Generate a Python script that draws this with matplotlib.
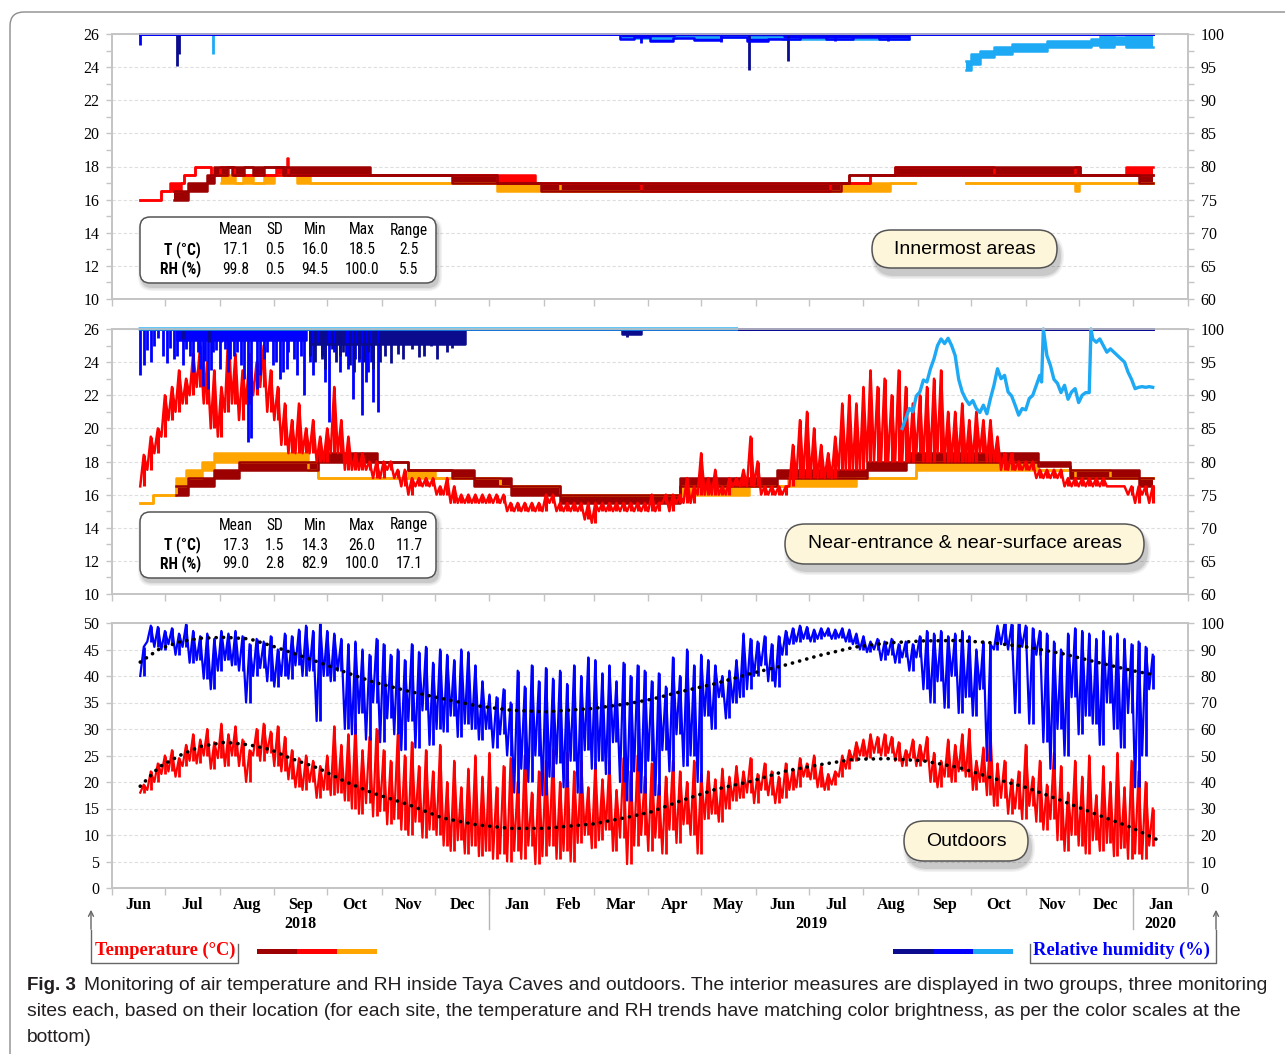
import numpy as np
import matplotlib
matplotlib.use("Agg")
import matplotlib.pyplot as plt
from matplotlib import font_manager
from matplotlib.patches import FancyBboxPatch, FancyArrowPatch, Rectangle
from matplotlib.lines import Line2D
from matplotlib.ticker import MultipleLocator
from matplotlib.transforms import IdentityTransform, blended_transform_factory

nan = np.nan

# ---------------- time axis (days counted from 1 June 2018) ----------------
MONTH_START = [0, 30, 61, 92, 122, 153, 183, 214, 245, 273, 304, 334,
               365, 395, 426, 457, 487, 518, 548, 579, 610]
MONTH_NAMES = ['Jun', 'Jul', 'Aug', 'Sep', 'Oct', 'Nov', 'Dec', 'Jan', 'Feb', 'Mar',
               'Apr', 'May', 'Jun', 'Jul', 'Aug', 'Sep', 'Oct', 'Nov', 'Dec', 'Jan']
YEAR_LABELS = ['2018', '2019', '2020']
YEAR_BREAKS = [214, 579]

# ---------------- innermost areas: temperature (day, low, high) ----------------
RED1_DAYS = [16, 28, 33, 39, 41, 47, 56, 61, 66, 69, 93, 99, 99.6, 218, 240, 300, 407, 430, 444, 500, 546, 549, 575, 590]
RED1_LO = [16.0, 16.5, 16.5, 17.0, 17.5, 18.0, 17.5, 17.5, 18.0, 17.5, 17.5, 17.5, 17.5, 17.0, 17.0, 16.5, 17.0, 17.5, 17.5, 17.5, 17.5, 17.5, 17.5, 17.5]
RED1_HI = [16.0, 16.5, 17.0, 17.0, 17.5, 18.0, 17.5, 18.0, 18.0, 17.5, 18.0, 18.5, 17.5, 17.5, 17.0, 17.0, 17.0, 17.5, 18.0, 17.5, 18.0, 17.5, 18.0, 18.0]

DRED1_DAYS = [35, 43, 54, 58, 65, 68, 75, 80, 86, 97, 146, 193, 218, 243, 413, 418, 444, 549, 582, 590]
DRED1_LO = [16.0, 16.5, 17.0, 17.5, 18.0, 17.5, 18.0, 17.5, 18.0, 17.5, 17.5, 17.0, 17.0, 16.5, 17.0, 17.5, 17.5, 17.5, 17.0, 17.0]
DRED1_HI = [16.5, 17.0, 17.5, 18.0, 18.0, 18.0, 18.0, 18.0, 18.0, 18.0, 17.5, 17.5, 17.0, 17.0, 17.0, 17.5, 18.0, 17.5, 17.5, 17.5]

ORG1_DAYS = [62, 70, 74, 80, 86, 92, 105, 112, 218, 254, 413, 441, 455, 484, 546, 548, 590]
ORG1_LO = [17.0, 17.0, 17.0, 17.0, 17.0, 17.5, 17.0, 17.0, 16.5, 16.5, 16.5, 17.0, nan, 17.0, 16.5, 17.0, 17.0]
ORG1_HI = [17.5, 17.0, 17.5, 17.0, 17.5, 17.5, 17.5, 17.0, 17.0, 16.5, 17.0, 17.0, nan, 17.0, 17.0, 17.0, 17.0]

# ---------------- innermost areas: relative humidity ----------------
NAVY1_DAYS = [16, 590]
NAVY1_LO = [100, 100]
NAVY1_HI = [100, 100]
NAVY1_SPIKE_DAY = [37, 38, 361, 383]
NAVY1_SPIKE_MIN = [95.2, 97.0, 94.5, 96.0]

BLUE1_DAYS = [16, 288, 296, 305, 318, 330, 345, 360, 372, 390, 405, 420, 435, 452, 590]
BLUE1_LO = [100, 99.2, 99.5, 99.0, 99.4, 99.1, 99.5, 99.0, 99.3, 99.6, 99.2, 99.5, 99.3, 100, 100]
BLUE1_HI = [100] * 15
BLUE1_SPIKE_DAY = [16, 300, 345, 410, 440]
BLUE1_SPIKE_MIN = [98.3, 98.6, 98.8, 98.9, 99.0]

LBLUE1_DAYS = [16, 288, 320, 380, 452, 484, 487, 492, 500, 510, 530, 555, 560, 568, 575, 590]
LBLUE1_LO = [100, 99.4, 99.6, 99.3, nan, 94.5, 95.5, 96.5, 97.0, 97.5, 98.0, 98.3, 98.0, 98.5, 98.0, 98.0]
LBLUE1_HI = [100, 100, 100, 100, nan, 96.0, 97.0, 97.5, 98.0, 98.5, 99.0, 99.2, 100, 99.5, 100, 100]
LBLUE1_SPIKE_DAY = [57]
LBLUE1_SPIKE_MIN = [97.0]

# ---------------- near-entrance & near-surface: temperature ----------------
# red site sampled every 4 days (daily low / high)
RED2_LO = [16.5, 17.5, 18.5, 19.5, 20.5, 21, 21.5, 22, 22.5, 21.5,
           20, 19.5, 21, 21.5, 20.5, 21.5, 22, 22.5, 21, 20.5,
           19, 18.5, 18.5, 18.5, 18.5, 18, 18, 18.5, 18.5, 17.5,
           17.5, 17.5, 17.5, 17, 17, 17.5, 17, 16.5, 16, 16.5,
           16.5, 16.5, 16, 16, 15.5, 15.5, 15.5, 15.5, 15.5, 15.5,
           15.5, 15.5, 15, 15, 15, 15, 15, 15, 15.5, 15,
           15, 15, 15, 14.5, 14.3, 15, 15, 15, 15, 15,
           15, 15, 15, 15, 15.5, 15, 15.5, 15.5, 15.5, 16,
           16, 16, 16, 16, 16.5, 16.5, 16.5, 16.5, 16, 16,
           16, 16, 16.5, 17, 17, 17, 17, 17, 17, 17.5,
           17.5, 17.5, 17.5, 18, 18, 18, 18, 18, 18, 18,
           18.5, 18, 18, 18.5, 18, 18, 18, 18, 18, 18.5,
           18, 18, 17.5, 17.5, 17.5, 17.5, 17.5, 17, 17, 17,
           17, 16.5, 16.5, 16.5, 16.5, 16.5, 16.5, 16.5, 16.5, 16.5,
           16, 15.5, 16, 15.5]
RED2_HI = [18.4, 19.5, 20, 22, 22.5, 23.5, 23, 24.5, 25, 24,
           23.5, 22.5, 26, 24.5, 23.5, 24.5, 24, 25, 23.5, 22.5,
           21.5, 20.5, 21.5, 20, 20.5, 19.5, 20, 22.5, 20.5, 19.5,
           18.5, 18.5, 18, 18, 18, 18, 17.5, 17.5, 17, 17,
           17, 17, 16.5, 17, 16.5, 16, 16, 16, 16, 16,
           16, 16, 15.5, 15.5, 15.5, 15.5, 15.5, 16, 16, 15.5,
           15.5, 15.5, 15.5, 15.5, 15.5, 15.5, 15.5, 15.5, 15.5, 15.5,
           15.5, 15.5, 16, 15.5, 16, 16, 16, 17, 16.5, 18.5,
           17, 17.5, 16.5, 17, 17, 17.5, 19.5, 18, 16.5, 16.5,
           16.5, 16.5, 19, 20.5, 21, 20, 19, 18.5, 19.5, 21.5,
           22, 21.5, 22.5, 23.5, 22.5, 23, 22, 23.5, 22.5, 21.5,
           22, 22.5, 23, 23.5, 21, 21, 21.5, 20.5, 21, 20.5,
           20.5, 19.5, 18.5, 18.5, 18, 18, 18, 17.5, 17.5, 17.5,
           17.5, 17, 17, 17, 17, 17, 17, 16.5, 16.5, 16.5,
           16.5, 16.5, 16.5, 16.5]

DRED2_DAYS = [36, 43, 58, 72, 117, 150, 168, 193, 205, 226, 254, 322, 377, 428, 450, 525, 543, 582, 590]
DRED2_LO = [16.0, 16.5, 17.0, 17.5, 18.0, 18.0, 17.5, 17.0, 16.5, 16.0, 15.5, 16.5, 17.0, 17.5, 18.0, 17.7, 17.0, 16.5, 16.5]
DRED2_HI = [16.5, 17.0, 17.5, 18.0, 18.5, 18.0, 17.5, 17.5, 17.0, 16.5, 16.0, 17.0, 17.5, 18.0, 18.5, 18.0, 17.5, 17.0, 17.0]

ORG2_DAYS = [16, 23, 36, 42, 51, 58, 111, 117, 168, 183, 220, 254, 322, 361, 383, 422, 456, 525, 546, 566, 590]
ORG2_LO = [15.5, 16.0, 16.5, 17.0, 17.5, 18.0, 17.5, 17.0, 17.0, 17.0, 16.5, 16.0, 16.0, 16.5, 16.5, 17.0, 17.5, 17.5, 17.0, 17.0, 17.0]
ORG2_HI = [15.5, 16.0, 17.0, 17.5, 18.0, 18.5, 18.0, 17.0, 17.5, 17.0, 16.5, 16.0, 16.5, 16.5, 17.0, 17.0, 18.0, 17.5, 17.5, 17.0, 17.0]

# ---------------- near-entrance & near-surface: relative humidity ----------------
NAVY2_DAYS = [16, 112, 200, 289, 300, 590]
NAVY2_LO = [100, 97.8, 100, 99.3, 100, 100]
NAVY2_HI = [100, 100, 100, 100, 100, 100]
NAVY2_SPIKE_DAY = [40, 55, 112, 115, 119, 121, 125, 127, 129, 131, 135, 137, 140, 143, 145, 148, 152,
                   155, 158, 162, 165, 170, 174, 177, 181, 184, 187, 190, 193, 196, 292]
NAVY2_SPIKE_MIN = [98.5, 98.0, 96.0, 95.0, 95.5, 94.0, 97.0, 95.0, 96.0, 96.5, 94.5, 93.5, 95.5, 95.0, 96.5, 94.0, 95.0,
                   96.0, 94.8, 96.2, 95.5, 97.0, 95.7, 96.0, 97.5, 95.5, 98.0, 96.5, 97.2, 98.0, 98.8]

BLUE2_DAYS = [16, 37, 110, 590]
BLUE2_LO = [100, 98.3, 100, 100]
BLUE2_HI = [100, 100, 100, 100]
BLUE2_SPIKE_DAY = [16, 18, 20, 22, 24, 26, 29, 31, 33, 35, 37, 40, 42, 44, 46, 48.5, 50, 51.5, 53, 54.4,
                   56, 57, 59, 61, 62, 64, 66, 67, 69, 71, 73, 75, 77, 79, 82, 84, 86, 88, 91.5, 93,
                   95, 97, 99, 100, 103, 105, 107, 109, 112, 114, 117, 119, 121, 123, 126, 129, 132.5,
                   134, 136.5, 138, 140, 142, 144, 145, 147, 148, 151]
BLUE2_SPIKE_MIN = [93.0, 94.5, 96.8, 95.0, 97.5, 98.7, 96.0, 94.8, 97.2, 95.5, 96.0, 94.5, 97.0, 96.0, 93.5, 96.5,
                   94.0, 91.4, 95.2, 91.0, 93.8, 96.5, 96.8, 94.0, 98.0, 97.0, 93.5, 95.5, 96.0, 96.5, 94.5,
                   92.5, 82.9, 83.5, 91.0, 93.0, 95.5, 96.5, 94.5, 95.0, 92.5, 93.5, 94.0, 96.5, 95.5, 93.0,
                   96.0, 90.0, 95.0, 93.0, 98.0, 96.0, 92.0, 86.0, 96.5, 93.5, 96.0, 94.0, 89.4, 95.5, 95.0,
                   87.0, 92.0, 93.5, 95.0, 89.0, 87.4]

LBLUE2_DAYS = [16, 354, 355,
               448, 450, 452, 454, 456, 458, 460, 462, 464, 466, 468, 470, 472, 474, 476, 478,
               480, 482, 484, 486, 488, 490, 492, 494, 496, 498, 500, 502, 504, 506, 508, 510,
               512, 514, 516, 518, 520, 522, 524, 526, 527, 528, 530, 532, 534, 536, 538, 540,
               542, 544, 546, 548, 550, 552, 554, 555, 556, 558, 560, 562, 564, 566, 568, 570,
               572, 574, 576, 578, 580, 582, 584, 586, 588, 590]
LBLUE2_RH = [100, 100, nan,
             85.0, 86.5, 88.0, 87.5, 89.9, 90.5, 92.3, 92.0, 94.0, 95.5, 97.5, 98.5, 97.8, 98.6, 97.5, 96.0,
             92.4, 90.5, 89.4, 88.6, 89.2, 88.0, 87.4, 88.5, 87.2, 89.5, 91.5, 94.0, 92.5, 93.0, 90.5, 89.9,
             88.5, 87.0, 88.0, 87.8, 89.5, 90.0, 91.5, 93.0, 92.0, 100.0, 96.0, 94.5, 92.4, 91.8, 90.4, 91.5,
             89.4, 90.5, 91.0, 88.9, 90.0, 90.4, 90.4, 100.0, 98.5, 98.0, 98.5, 97.5, 96.5, 97.0, 96.5, 96.0,
             95.5, 95.0, 93.5, 92.4, 91.0, 91.2, 91.3, 91.2, 91.3, 91.2]

# ---------------- outdoors, sampled every 4 days (daily low / high) ----------------
T_OUT_LO = [18, 18.5, 20, 21.5, 22, 21, 23, 24, 23.5, 25,
            22.5, 24.5, 23, 25, 23, 20, 25, 24, 25.5, 23,
            22, 20.5, 19, 18.5, 20, 17, 18.5, 17.5, 18, 16.5,
            15, 14, 16, 13.5, 14.5, 12, 13, 11, 10, 12.5,
            9.5, 11, 10, 8, 7, 9, 6.5, 8, 6, 7,
            5.5, 6.5, 5, 7, 5.5, 8, 4.5, 6, 8, 5.5,
            7, 5, 8.5, 10, 7.5, 9, 11, 7, 9.5, 4.5,
            8, 10, 7, 9.5, 6.5, 11, 8.5, 12, 10, 6.5,
            13, 14, 12.5, 15, 16.5, 17, 18, 16, 18.5, 17.5,
            16, 17, 18.5, 19, 21, 20.5, 19, 18.5, 19.5, 21,
            22.5, 24, 25, 24.5, 25.5, 25, 25.5, 24, 23, 24.5,
            23, 24, 20, 19, 21, 20, 22, 21, 18.5, 20,
            17.5, 15.5, 17, 14, 15, 13, 15.5, 12.5, 11, 13,
            9, 7, 10, 8, 6.5, 9, 7, 8.5, 6, 7.5,
            5.5, 6.5, 5.5, 8]
T_OUT_HI = [19.5, 22, 23.5, 25, 26, 24.5, 27, 29, 28, 30,
            27.5, 31, 29, 30.5, 28, 26, 30, 31, 29.5, 30.5,
            28.5, 26, 24.5, 25, 24, 23, 25, 30.5, 27, 29,
            31, 26, 28.5, 30, 26, 24, 29, 25, 27.5, 23,
            26, 22, 27, 20, 24, 19, 22.5, 25, 21, 25.5,
            19, 23, 24.5, 20, 25, 18, 22, 24, 26, 20,
            25.5, 22, 24, 19, 23.5, 20.5, 24, 18.5, 24.5, 22,
            25, 21, 23.5, 19.5, 21, 24, 22, 20, 24, 21.5,
            22, 20.5, 22.5, 21, 23, 22, 24.5, 21.5, 23.5, 22,
            21, 23.5, 22.5, 24.5, 23.5, 25, 23, 21.5, 22, 25,
            26, 27.5, 28, 29, 28.5, 29, 28.5, 27.5, 26, 28,
            27, 28.5, 25.5, 24, 28, 27, 29, 30, 24, 26.5,
            29.5, 23.5, 24, 20.5, 22, 27, 21, 24, 19.5, 25.5,
            23, 18, 24, 21, 25, 17.5, 23, 20, 25.5, 19,
            24, 22, 20, 15]
RH_OUT_LO = [80, 93, 91, 90, 92, 88, 91, 85, 86, 79,
             75, 82, 86, 84, 82, 70, 80, 83, 78, 76,
             80, 79, 84, 80, 82, 63, 80, 78, 82, 60,
             58, 66, 56, 70, 55, 64, 58, 52, 63, 53,
             67, 54, 60, 59, 65, 57, 62, 60, 56, 60,
             53, 58, 50, 36, 45, 40, 50, 35, 42, 47,
             38, 48, 36, 52, 45, 48, 43, 55, 40, 33,
             44, 36, 48, 35, 52, 44, 58, 46, 50, 40,
             65, 60, 72, 64, 70, 72, 75, 80, 84, 78,
             76, 88, 92, 93, 94, 93, 94, 95, 94, 94.5,
             93, 92, 90, 89, 90, 86, 88, 85, 87, 82,
             87, 75, 70, 78, 68, 80, 66, 72, 65, 75,
             48, 90, 92, 90, 66, 91, 62, 88, 55, 45,
             60, 50, 72, 58, 65, 62, 54, 70, 60, 53,
             66, 38, 50, 75]
RH_OUT_HI = [91, 99, 98.5, 97, 98, 96, 99.5, 97, 95, 96,
             94, 97, 96, 97, 95, 92, 94, 93, 95, 90,
             96, 95, 97.5, 99, 97, 100, 97, 96, 94, 92,
             93, 90, 88, 94, 92, 88, 90, 86, 92, 89,
             91, 85, 90, 88, 86, 90, 89, 84, 78, 73,
             72, 75, 70, 82, 76, 84, 78, 83, 79, 82,
             77, 84, 80, 87, 86, 81, 84, 78, 85, 80,
             84, 82, 78, 81, 76, 87, 80, 90, 84, 88,
             86, 84, 80, 82, 86, 96, 94, 93, 95, 92,
             95, 97, 98, 99, 98.5, 97.5, 98, 98, 97.5, 98,
             97.5, 96, 95, 93, 94, 93, 94, 92, 93, 92,
             95, 97, 96, 97, 95, 96, 97, 95, 90, 93,
             92, 99, 100, 99.5, 100, 99, 98, 97, 96, 93,
             90, 96, 98, 97, 96, 94, 97, 95, 96, 94,
             92, 93, 91, 88]

TREND_DAYS = [16, 27, 39, 50, 64, 78, 90, 101, 117, 132, 148, 168, 187, 207, 226, 246, 273,
              293, 306, 322, 342, 362, 381, 401, 421, 440, 460, 480, 499, 519, 539, 558, 578, 592]
T_TREND = [19.2, 22.9, 25.1, 26.7, 27.5, 27.0, 26.1, 24.5, 22.6, 20.1, 17.9, 15.75, 13.25, 11.9,
           11.25, 11.25, 12.1, 13.4, 14.4, 16.4, 18.6, 20.1, 22.0, 23.25, 24.3, 24.4, 24.0, 22.75,
           20.75, 18.9, 16.4, 13.9, 11.4, 9.2]
RH_TREND = [85.25, 90.25, 93.0, 94.25, 94.6, 94.0, 91.5, 89.0, 85.25, 81.5, 77.75, 74.25, 71.5,
            68.75, 67.1, 66.5, 67.75, 69.6, 71.25, 74.0, 77.1, 80.9, 84.0, 87.75, 90.9, 92.5, 93.25,
            93.4, 92.5, 90.9, 88.4, 85.25, 82.1, 80.25]

# ---------------- summary tables ----------------
STAT_HEADERS = ['Mean', 'SD', 'Min', 'Max', 'Range']
INNER_T_STATS = [17.1, 0.5, 16.0, 18.5, 2.5]
INNER_RH_STATS = [99.8, 0.5, 94.5, 100.0, 5.5]
NEAR_T_STATS = [17.3, 1.5, 14.3, 26.0, 11.7]
NEAR_RH_STATS = [99.0, 2.8, 82.9, 100.0, 17.1]

CAPTION_LINES = [
    "Monitoring of air temperature and RH inside Taya Caves and outdoors. The interior measures are displayed in two groups, three monitoring",
    "sites each, based on their location (for each site, the temperature and RH trends have matching color brightness, as per the color scales at the",
    "bottom)",
]

# ---------------- colours & fonts ----------------
DRED, RED, ORANGE = '#9c0000', '#ff0000', '#ffa500'
NAVY, BLUE, LBLUE = '#0b0b8e', '#0000ff', '#1ea9f5'
SPINE = '#c4c4c4'

_installed = {f.name for f in font_manager.fontManager.ttflist}
NARROW = next((n for n in ['Liberation Sans Narrow', 'Roboto Condensed', 'Roboto'] if n in _installed), 'DejaVu Sans')
SERIF = 'Liberation Serif'
SANS = 'Liberation Sans'
plt.rcParams['font.family'] = SANS

W, H = 1285, 1054
fig = plt.figure(figsize=(W / 100, H / 100), dpi=100)
PIX = IdentityTransform()


def px(x, y):
    return x, H - y


def panel(top, bottom):
    return fig.add_axes([112 / W, 1 - bottom / H, (1188 - 112) / W, (bottom - top) / H])


def style(ax, axr, ylim, ystep, yminor, rlim, rstep, rminor):
    ax.set_xlim(0, 610)
    ax.set_ylim(*ylim)
    axr.set_ylim(*rlim)
    ax.set_yticks(np.arange(ylim[0], ylim[1] + 0.01, ystep))
    axr.set_yticks(np.arange(rlim[0], rlim[1] + 0.01, rstep))
    if yminor:
        ax.yaxis.set_minor_locator(MultipleLocator(yminor))
        axr.yaxis.set_minor_locator(MultipleLocator(rminor))
    ax.set_xticks(MONTH_START)
    ax.set_xticklabels([])
    ax.tick_params(axis='x', length=5, width=1, color=SPINE)
    for a in (ax, axr):
        a.tick_params(axis='y', which='both', length=4, width=1, color=SPINE, pad=5,
                      labelsize=11.5, labelfontfamily=SERIF)
        for s in a.spines.values():
            s.set_color(SPINE)
            s.set_linewidth(1.2)
    ax.grid(axis='y', which='major', color='#dedede', ls=(0, (3, 2)), lw=0.8)
    ax.set_axisbelow(True)


def steps(ax, days, lo, hi, color, lw=1.8):
    d = np.asarray(days, float)
    lo = np.asarray(lo, float)
    hi = np.asarray(hi, float)
    ax.fill_between(d, lo, hi, step='post', color=color, lw=0, clip_on=False)
    ax.step(d, lo, where='post', color=color, lw=lw, clip_on=False)
    ax.step(d, hi, where='post', color=color, lw=lw, clip_on=False)


def spikes(ax, days, mins, color, top=100):
    ax.vlines(days, mins, top, colors=color, lw=2.0)


def interleave(days, lo, hi, half=2.0):
    d = np.asarray(days, float)
    x = np.column_stack([d, d + half]).ravel()
    y = np.column_stack([lo, hi]).ravel()
    return x, y


def daily_range(ax, days, lo, hi, color, lw=1.6):
    # zig-zag between successive lows and highs, plus a stroke for each low-high span
    x, y = interleave(days, lo, hi)
    ax.plot(x, y, color=color, lw=lw)
    ax.vlines(np.asarray(days, float) + 2.0, lo, hi, colors=color, lw=lw + 0.4)


def rounded_box(x0, y0, x1, y1, r, face, edge, shadow=(3, 6)):
    dx, dy = shadow
    for k, a in [(8, 0.05), (5, 0.07), (2, 0.10)]:
        fig.add_artist(FancyBboxPatch((x0 + dx - k / 2, H - y1 - dy - k / 2), x1 - x0 + k, y1 - y0 + k,
                                      boxstyle=f'round,pad=0,rounding_size={r + k / 2}',
                                      transform=PIX, fc='black', ec='none', alpha=a, zorder=4))
    fig.add_artist(FancyBboxPatch((x0, H - y1), x1 - x0, y1 - y0,
                                  boxstyle=f'round,pad=0,rounding_size={r}',
                                  transform=PIX, fc=face, ec=edge, lw=1.1, zorder=5))


def txt(x, y, s, **kw):
    kw.setdefault('va', 'center')
    return fig.text(*px(x, y), s, transform=PIX, zorder=6, **kw)


def stats_box(top, t_stats, rh_stats):
    rounded_box(140, top, 436, top + 66, 10, 'white', '#555555', shadow=(2, 4))
    cols = [236, 275, 315, 362, 409]
    fs = 11.2
    for x, h in zip(cols, STAT_HEADERS):
        txt(x, top + 13, h, ha='center', fontsize=fs, family=NARROW)
    txt(201, top + 33, 'T (°C)', ha='right', fontsize=fs, family=NARROW, weight='bold')
    txt(201, top + 52, 'RH (%)', ha='right', fontsize=fs, family=NARROW, weight='bold')
    for x, tv, rv in zip(cols, t_stats, rh_stats):
        txt(x, top + 33, f'{tv:.1f}', ha='center', fontsize=fs, family=NARROW)
        txt(x, top + 52, f'{rv:.1f}', ha='center', fontsize=fs, family=NARROW)


def pill(x0, y0, x1, y1, label):
    rounded_box(x0, y0, x1, y1, (y1 - y0) / 2, '#fdf6da', '#555555', shadow=(3, 7))
    txt((x0 + x1) / 2, (y0 + y1) / 2, label, ha='center', fontsize=14, family=SANS)


DOTS = dict(color='black', lw=2.6, ls=(0, (0.05, 2.0)), dash_capstyle='round')

# ---------------- panel 1: innermost areas ----------------
ax1 = panel(34, 299)
ax1r = ax1.twinx()
style(ax1, ax1r, (10, 26), 2, 1, (60, 100), 5, 2.5)
steps(ax1, ORG1_DAYS, ORG1_LO, ORG1_HI, ORANGE)
steps(ax1, RED1_DAYS, RED1_LO, RED1_HI, RED)
steps(ax1, DRED1_DAYS, DRED1_LO, DRED1_HI, DRED)
steps(ax1r, LBLUE1_DAYS, LBLUE1_LO, LBLUE1_HI, LBLUE)
spikes(ax1r, LBLUE1_SPIKE_DAY, LBLUE1_SPIKE_MIN, LBLUE)
steps(ax1r, NAVY1_DAYS, NAVY1_LO, NAVY1_HI, NAVY)
spikes(ax1r, NAVY1_SPIKE_DAY, NAVY1_SPIKE_MIN, NAVY)
steps(ax1r, BLUE1_DAYS, BLUE1_LO, BLUE1_HI, BLUE)
spikes(ax1r, BLUE1_SPIKE_DAY, BLUE1_SPIKE_MIN, BLUE)

# ---------------- panel 2: near-entrance & near-surface ----------------
ax2 = panel(329, 594)
ax2r = ax2.twinx()
style(ax2, ax2r, (10, 26), 2, 1, (60, 100), 5, 2.5)
near_days = np.arange(16, 16 + 4 * len(RED2_LO), 4)
steps(ax2, ORG2_DAYS, ORG2_LO, ORG2_HI, ORANGE)
steps(ax2, DRED2_DAYS, DRED2_LO, DRED2_HI, DRED)
daily_range(ax2, near_days, RED2_LO, RED2_HI, RED, lw=1.8)
steps(ax2r, BLUE2_DAYS, BLUE2_LO, BLUE2_HI, BLUE)
spikes(ax2r, BLUE2_SPIKE_DAY, BLUE2_SPIKE_MIN, BLUE)
steps(ax2r, NAVY2_DAYS, NAVY2_LO, NAVY2_HI, NAVY)
spikes(ax2r, NAVY2_SPIKE_DAY, NAVY2_SPIKE_MIN, NAVY)
ax2r.plot(LBLUE2_DAYS, LBLUE2_RH, color=LBLUE, lw=2.4, clip_on=False)

# ---------------- panel 3: outdoors ----------------
ax3 = panel(623, 888)
ax3r = ax3.twinx()
style(ax3, ax3r, (0, 50), 5, None, (0, 100), 10, None)
out_days = np.arange(16, 16 + 4 * len(T_OUT_LO), 4)
daily_range(ax3, out_days, T_OUT_LO, T_OUT_HI, RED)
ax3.plot(TREND_DAYS, T_TREND, zorder=5, **DOTS)
daily_range(ax3r, out_days, RH_OUT_LO, RH_OUT_HI, BLUE)
ax3r.plot(TREND_DAYS, RH_TREND, **DOTS)

# month / year labels under the bottom panel
blend = blended_transform_factory(ax3.transData, ax3.transAxes)
for name, a, b in zip(MONTH_NAMES, MONTH_START[:-1], MONTH_START[1:]):
    ax3.text((a + b) / 2, -0.064, name, transform=blend, ha='center', va='center',
             family=SERIF, weight='bold', fontsize=11.5)
year_spans = [(MONTH_START[0], YEAR_BREAKS[0]), (YEAR_BREAKS[0], YEAR_BREAKS[1]),
              (MONTH_START[-2], MONTH_START[-1])]
for lab, (a, b) in zip(YEAR_LABELS, year_spans):
    ax3.text((a + b) / 2, -0.136, lab, transform=blend, ha='center', va='center',
             family=SERIF, weight='bold', fontsize=11.5)
for d in YEAR_BREAKS:
    ax3.plot([d, d], [0, -0.155], transform=blend, clip_on=False, color='#b5b5b5', lw=1)

# ---------------- boxes and labels ----------------
stats_box(217, INNER_T_STATS, INNER_RH_STATS)
stats_box(512, NEAR_T_STATS, NEAR_RH_STATS)
pill(872, 230, 1057, 268, 'Innermost areas')
pill(785, 524, 1144, 564, 'Near-entrance & near-surface areas')
pill(904, 821, 1028, 861, 'Outdoors')

# ---------------- colour scales ----------------
for i, c in enumerate([DRED, RED, ORANGE]):
    fig.add_artist(Rectangle(px(257 + 40 * i, 954), 40, 5, transform=PIX, fc=c, ec='none'))
for i, c in enumerate([NAVY, BLUE, LBLUE]):
    fig.add_artist(Rectangle(px(893 + 40 * i, 954), 40, 5, transform=PIX, fc=c, ec='none'))
txt(95, 950, 'Temperature (°C)', ha='left', family=SERIF, weight='bold', fontsize=13.3, color=RED)
txt(1033, 950, 'Relative humidity (%)', ha='left', family=SERIF, weight='bold', fontsize=13.3, color=BLUE)

bracket = '#666666'
for xs, ys in [([91, 91, 238, 238], [930, 963, 963, 944]),
               ([1030, 1030, 1216, 1216], [944, 963, 963, 930])]:
    fig.add_artist(Line2D(xs, [H - v for v in ys], transform=PIX, color=bracket, lw=1))
for xa in (91, 1216):
    fig.add_artist(FancyArrowPatch(px(xa, 932), px(xa, 907), transform=PIX, arrowstyle='->',
                                   mutation_scale=9, color=bracket, lw=1))

# ---------------- caption ----------------
rend = fig.canvas.get_renderer()
cap_font = SANS
fig_lbl = txt(27, 985, 'Fig. 3', ha='left', family=cap_font, weight='bold', fontsize=14, color='#231f20')
lines = [txt(84, 985, CAPTION_LINES[0], ha='left', family=cap_font, fontsize=14, color='#231f20'),
         txt(27, 1011, CAPTION_LINES[1], ha='left', family=cap_font, fontsize=14, color='#231f20'),
         txt(27, 1038, CAPTION_LINES[2], ha='left', family=cap_font, fontsize=14, color='#231f20')]
for _ in range(2):
    w = lines[0].get_window_extent(rend).width
    size = lines[0].get_fontsize() * (1262 - 84) / w
    for t in lines:
        t.set_fontsize(size)
    wb = fig_lbl.get_window_extent(rend).width
    fig_lbl.set_fontsize(fig_lbl.get_fontsize() * (76 - 27) / wb)

# outer frame
fig.add_artist(FancyBboxPatch((10, -30), W + 30, H - 12 + 30, boxstyle='round,pad=0,rounding_size=14',
                              transform=PIX, fc='none', ec='#8c8c8c', lw=1))

fig.savefig('out.png', dpi=100)
